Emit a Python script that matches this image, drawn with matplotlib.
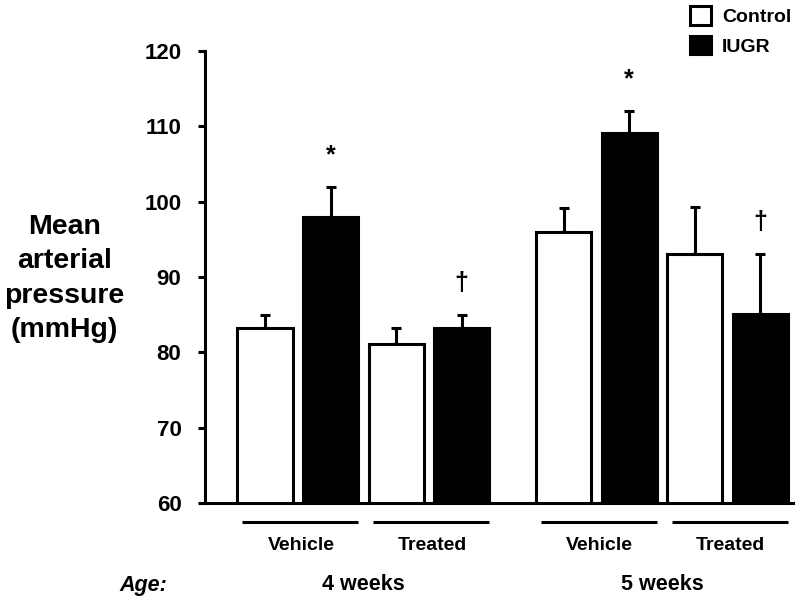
import matplotlib
matplotlib.use("Agg")
import matplotlib.pyplot as plt
import matplotlib.transforms as mtransforms

plt.rcParams["font.family"] = ["Liberation Sans", "DejaVu Sans"]
plt.rcParams["font.weight"] = "bold"

# Values
treatments = ["Vehicle", "Treated", "Vehicle", "Treated"]
ages = ["4 weeks", "5 weeks"]
control_mean = [83.2, 81.1, 96.0, 93.0]
control_sem = [1.8, 2.1, 3.2, 6.3]
iugr_mean = [98.0, 83.2, 109.1, 85.1]
iugr_sem = [4.0, 1.8, 3.0, 8.0]
iugr_marks = ["*", "\u2020", "*", "\u2020"]

group_x = [0, 2, 4.56, 6.56]
width = 0.84
lw = 2.2

fig = plt.figure(figsize=(8, 6.02), dpi=100)
ax = fig.add_axes([205 / 800, 1 - 503 / 602, (793 - 205) / 800, (503 - 51) / 602])

cx = [g for g in group_x]
ix = [g + 1 for g in group_x]

ax.errorbar(cx, control_mean, yerr=[[0] * 4, control_sem], fmt="none",
            ecolor="black", elinewidth=lw, capsize=3.5, capthick=lw, zorder=1)
ax.errorbar(ix, iugr_mean, yerr=[[0] * 4, iugr_sem], fmt="none",
            ecolor="black", elinewidth=lw, capsize=3.5, capthick=lw, zorder=1)
b1 = ax.bar(cx, control_mean, width, color="white", edgecolor="black",
            linewidth=lw, label="Control", zorder=2)
b2 = ax.bar(ix, iugr_mean, width, color="black", edgecolor="black",
            linewidth=lw, label="IUGR", zorder=2)

for x, m, s, t in zip(ix, iugr_mean, iugr_sem, iugr_marks):
    ax.text(x, m + s + 2.6, t, ha="center", va="bottom", fontsize=18,
            fontweight="bold")

ax.set_xlim(-0.916, 8.06)
ax.set_ylim(60, 120)
ax.set_yticks(range(60, 121, 10))
ax.set_xticks([])
ax.tick_params(axis="y", direction="out", length=5, width=lw, labelsize=16, pad=12)
for side in ["top", "right"]:
    ax.spines[side].set_visible(False)
for side in ["left", "bottom"]:
    ax.spines[side].set_linewidth(lw)

ax.set_ylabel("Mean\narterial\npressure\n(mmHg)", rotation=0, fontsize=20.5,
              fontweight="bold", linespacing=1.42, ha="center", va="center")
ax.yaxis.set_label_coords(-0.239, 0.497)

# treatment lines and labels below the axis
trans = mtransforms.blended_transform_factory(ax.transData, ax.transAxes)
for g, name in zip(group_x, treatments):
    ax.plot([g - 0.35, g + 1.42], [-0.042, -0.042], color="black", lw=lw,
            transform=trans, clip_on=False, solid_capstyle="butt")
    ax.text(g + 0.55, -0.095, name, transform=trans, ha="center", va="center",
            fontsize=14, fontweight="bold")

for k, age in enumerate(ages):
    mid = (group_x[2 * k] + group_x[2 * k + 1] + 1) / 2
    ax.text(mid, -0.18, age, transform=trans, ha="center", va="center",
            fontsize=15.5, fontweight="bold")
fig.text(143 / 800, 1 - 585 / 602, "Age:", ha="center", va="center",
         fontsize=15.5, fontweight="bold", style="italic")

fig.legend(handles=[b1, b2], loc="upper left", bbox_to_anchor=(690 / 800, 1 - 6 / 602),
           frameon=False, fontsize=14, handlelength=1.1, handleheight=1.1,
           handletextpad=0.55, labelspacing=0.5, borderpad=0, borderaxespad=0)

fig.savefig("out.png", dpi=100)
